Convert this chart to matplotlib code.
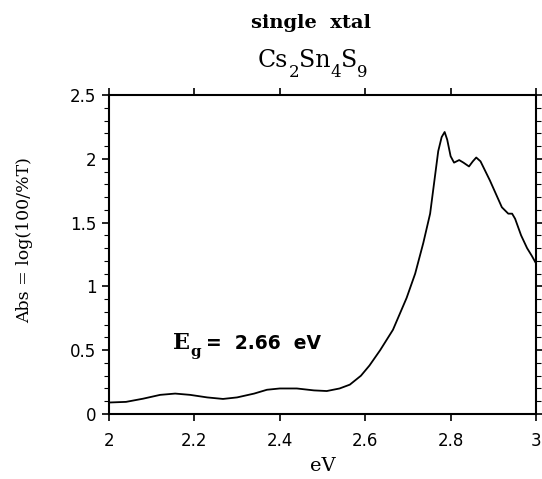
import matplotlib
matplotlib.use("Agg")
import matplotlib.pyplot as plt
from matplotlib.ticker import MultipleLocator

# absorption spectrum
energy = [2.00, 2.04, 2.08, 2.12, 2.155, 2.19, 2.23, 2.267, 2.30, 2.34, 2.37,
          2.40, 2.44, 2.48, 2.51, 2.54, 2.564, 2.59, 2.61, 2.635, 2.665,
          2.697, 2.717, 2.736, 2.752, 2.771, 2.779, 2.786, 2.792, 2.80,
          2.808, 2.82, 2.83, 2.843, 2.852, 2.86, 2.87, 2.892, 2.92, 2.935,
          2.944, 2.951, 2.965, 2.979, 2.99, 3.00]
absorb = [0.09, 0.095, 0.12, 0.15, 0.16, 0.15, 0.13, 0.118, 0.13, 0.16, 0.19,
          0.20, 0.20, 0.185, 0.18, 0.20, 0.23, 0.30, 0.38, 0.50, 0.66,
          0.91, 1.10, 1.34, 1.57, 2.06, 2.17, 2.21, 2.15, 2.02,
          1.97, 1.99, 1.97, 1.94, 1.98, 2.01, 1.98, 1.83, 1.62, 1.57,
          1.57, 1.53, 1.40, 1.30, 1.24, 1.18]

xticks = [2, 2.2, 2.4, 2.6, 2.8, 3]
xticklabels = ["2", "2.2", "2.4", "2.6", "2.8", "3"]
yticks = [0, 0.5, 1, 1.5, 2, 2.5]
yticklabels = ["0", "0.5", "1", "1.5", "2", "2.5"]

# formula pieces: text, is subscript
formula = [("Cs", False), ("2", True), ("Sn", False), ("4", True),
           ("S", False), ("9", True)]

serif = ["DejaVu Serif"]
sans = ["DejaVu Sans"]

W, H = 542, 479
fig = plt.figure(figsize=(W / 100, H / 100), dpi=100)
ax = fig.add_axes([0.201, 0.1357, 0.788, 0.666])
renderer = fig.canvas.get_renderer()


def run_text(x0, y0, pieces, gap=0):
    # lay out text pieces one after another (pixel coordinates from top-left)
    x = x0
    for s, size, dy, weight, fam in pieces:
        t = fig.text(x / W, 1 - (y0 + dy) / H, s, fontsize=size,
                     fontweight=weight, family=fam, ha="left",
                     va="baseline")
        bb = t.get_window_extent(renderer)
        x += bb.width + gap
    return x


ax.plot(energy, absorb, color="black", lw=1.3)
ax.set_xlim(2, 3)
ax.set_ylim(0, 2.5)

ax.set_xticks(xticks)
ax.set_xticklabels(xticklabels, family=sans, fontsize=12)
ax.set_yticks(yticks)
ax.set_yticklabels(yticklabels, family=sans, fontsize=12)
ax.yaxis.set_minor_locator(MultipleLocator(0.1))

ax.tick_params(which="major", direction="out", length=5, width=1.2,
               top=True, right=True, labeltop=False, labelright=False,
               pad=4)
ax.tick_params(axis="x", which="major", pad=8)
ax.tick_params(which="minor", direction="out", length=3.5, width=0.8,
               right=True)
for s in ax.spines.values():
    s.set_linewidth(1.5)

ax.set_xlabel("eV", family=serif, fontsize=14, labelpad=5)
ax.set_ylabel("Abs = log(100/%T)", family=serif, fontsize=12.5)
ax.yaxis.set_label_coords(-0.178, 0.545)

fig.text(0.573, 1 - 28 / H, "single  xtal", family=serif, fontsize=14,
         fontweight="bold", ha="center", va="baseline")

pieces = []
for s, sub in formula:
    if sub:
        pieces.append((s, 12, 10, "normal", serif))
    else:
        pieces.append((s, 17, 0, "normal", serif))
run_text(258, 67, pieces, gap=0)

run_text(173, 349, [("E", 16, 0, "bold", serif),
                    ("g", 11, 7, "bold", serif)])
fig.text(206 / W, 1 - 349 / H, "=  2.66  eV", family=sans, fontsize=13.5,
         fontweight="bold", ha="left", va="baseline")

fig.savefig("out.png", dpi=100)
